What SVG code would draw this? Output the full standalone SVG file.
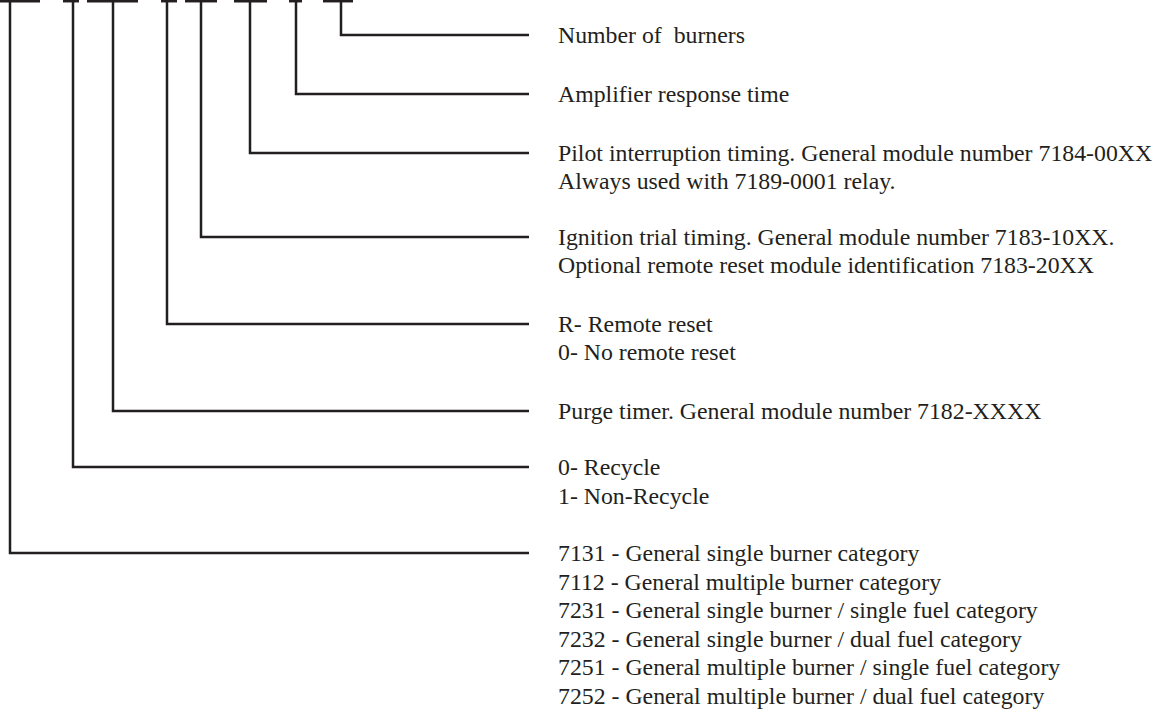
<svg xmlns="http://www.w3.org/2000/svg" width="1161" height="711" viewBox="0 0 1161 711">
<style>
.ln{fill:none;stroke:#231f20;stroke-width:2.5;stroke-linecap:butt;stroke-linejoin:miter}
.t{font-family:"Liberation Serif","Times New Roman",serif;font-size:23.8px;fill:#231f20}
</style>
<rect width="1161" height="711" fill="#ffffff"/>
<g id="code-segments" class="ln">
<line x1="0" y1="1.2" x2="40" y2="1.2"/>
<line x1="63" y1="1.2" x2="79" y2="1.2"/>
<line x1="87" y1="1.2" x2="138" y2="1.2"/>
<line x1="161" y1="1.2" x2="177" y2="1.2"/>
<line x1="185" y1="1.2" x2="217" y2="1.2"/>
<line x1="234" y1="1.2" x2="267" y2="1.2"/>
<line x1="289" y1="1.2" x2="302" y2="1.2"/>
<line x1="323" y1="1.2" x2="353" y2="1.2"/>
</g>
<g id="connectors" class="ln">
<path d="M341,0 V35 H529"/>
<path d="M296,0 V94 H529"/>
<path d="M250,0 V153 H529"/>
<path d="M201,0 V237 H529"/>
<path d="M167,0 V324 H529"/>
<path d="M113,0 V411 H529"/>
<path d="M73,0 V467 H529"/>
<path d="M10,0 V553 H529"/>
</g>
<g id="burners"><text class="t" x="558" y="43" xml:space="preserve">Number of  burners</text></g>
<g id="amplifier"><text class="t" x="558" y="102">Amplifier response time</text></g>
<g id="pilot"><text class="t" x="558" y="161">Pilot interruption timing. General module number 7184-00XX</text><text class="t" x="558" y="189">Always used with 7189-0001 relay.</text></g>
<g id="ignition"><text class="t" x="558" y="245">Ignition trial timing. General module number 7183-10XX.</text><text class="t" x="558" y="273">Optional remote reset module identification 7183-20XX</text></g>
<g id="remote-reset"><text class="t" x="558" y="332">R- Remote reset</text><text class="t" x="558" y="360">0- No remote reset</text></g>
<g id="purge"><text class="t" x="558" y="419">Purge timer. General module number 7182-XXXX</text></g>
<g id="recycle"><text class="t" x="558" y="475">0- Recycle</text><text class="t" x="558" y="503.5">1- Non-Recycle</text></g>
<g id="category"><text class="t" x="558" y="561">7131 - General single burner category</text><text class="t" x="558" y="589.5">7112 - General multiple burner category</text><text class="t" x="558" y="618">7231 - General single burner / single fuel category</text><text class="t" x="558" y="646.5">7232 - General single burner / dual fuel category</text><text class="t" x="558" y="675">7251 - General multiple burner / single fuel category</text><text class="t" x="558" y="703.5">7252 - General multiple burner / dual fuel category</text></g>
</svg>
